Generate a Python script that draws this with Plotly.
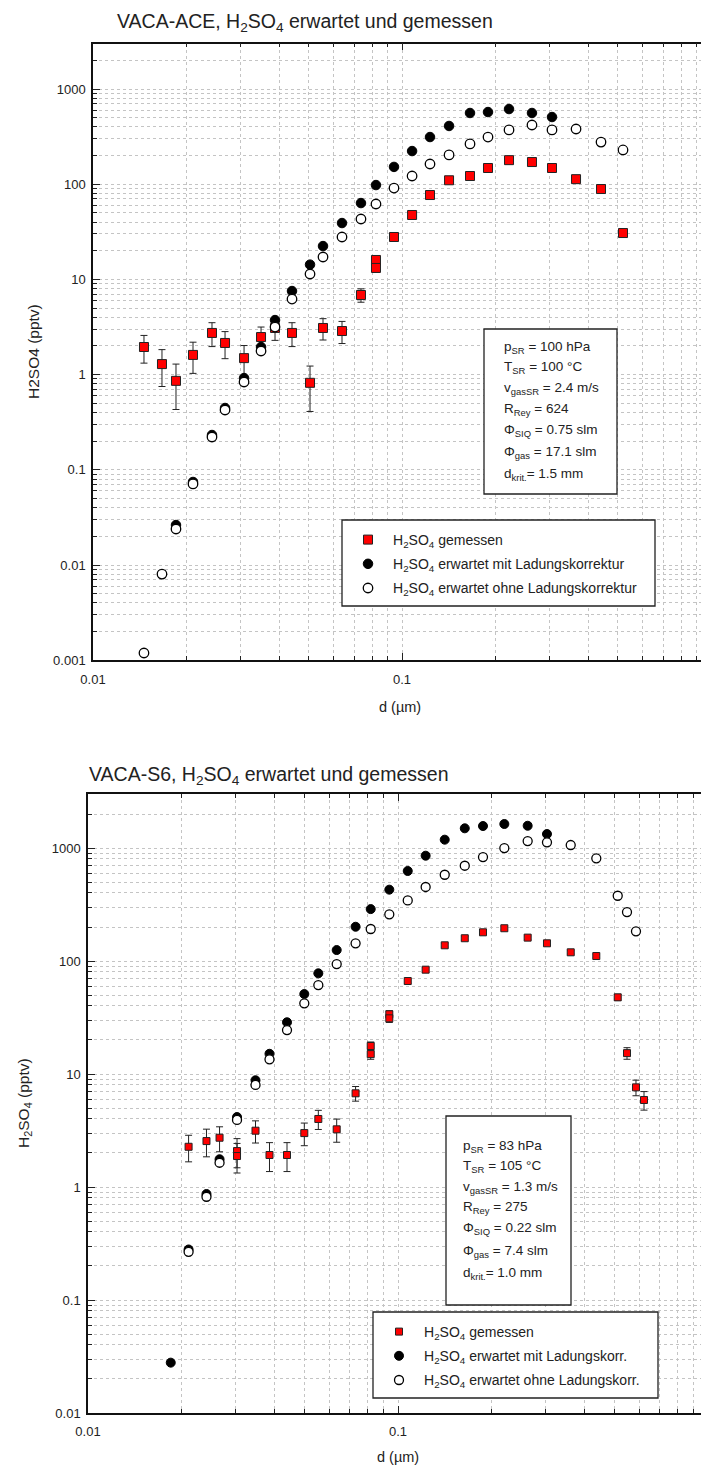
import math
import plotly.graph_objects as go

W, H = 701, 1468

# ---------------- data: top chart (VACA-ACE) ----------------
d_meas_top = [0.01462, 0.01672, 0.01856, 0.02107, 0.02427, 0.02675, 0.03082, 0.03498, 0.03882, 0.04406,
              0.05039, 0.05551, 0.06395, 0.07366, 0.08237, 0.08237, 0.09421, 0.1078, 0.1232, 0.1420,
              0.1660, 0.1898, 0.2220, 0.2634, 0.3058, 0.3658, 0.4406, 0.5191]
meas_top = [1.95, 1.29, 0.86, 1.61, 2.74, 2.15, 1.49, 2.48, 3.09, 2.74,
            0.82, 3.09, 2.87, 6.86, 16.0, 13.2, 27.9, 47.5, 77, 110,
            122, 148, 179, 171, 148, 113, 89, 30.7]
err_top = [0.63, 0.54, 0.43, 0.58, 0.77, 0.68, 0.53, 0.68, 0.8, 0.77,
           0.41, 0.78, 0.75, 1.1, 1.5, 1.3, 2, 3, 5, 6,
           7, 8, 9, 9, 8, 6, 5, 2]

d_mit_top = [0.01856, 0.02107, 0.02427, 0.02675, 0.03082, 0.03498, 0.03882, 0.04406, 0.05039, 0.05551,
             0.06395, 0.07366, 0.08237, 0.09421, 0.1078, 0.1232, 0.1420, 0.1660, 0.1898, 0.2220,
             0.2634, 0.3058]
mit_top = [0.0263, 0.0745, 0.232, 0.446, 0.92, 1.95, 3.74, 7.55, 14.3, 22.4,
           39.1, 63.4, 98, 152, 223, 313, 409, 560, 573, 616,
           560, 508]

d_ohne_top = [0.01462, 0.01672, 0.01856, 0.02107, 0.02427, 0.02675, 0.03082, 0.03498, 0.03882, 0.04406,
              0.05039, 0.05551, 0.06395, 0.07366, 0.08237, 0.09421, 0.1078, 0.1232, 0.1420, 0.1660,
              0.1898, 0.2220, 0.2634, 0.3058, 0.3658, 0.4406, 0.5191]
ohne_top = [0.00119, 0.00803, 0.0239, 0.0710, 0.221, 0.425, 0.836, 1.77, 3.16, 6.22,
            11.4, 17.2, 27.9, 43.1, 62, 91.2, 122, 163, 203, 265,
            313, 372, 419, 372, 380, 277, 229]

# ---------------- data: bottom chart (VACA-S6) ----------------
d_meas_bot = [0.02111, 0.02411, 0.02657, 0.03025, 0.03025, 0.03470, 0.03850, 0.04385, 0.04986, 0.05533,
              0.06342, 0.07298, 0.08166, 0.08166, 0.09374, 0.09374, 0.1075, 0.1228, 0.1415, 0.1642,
              0.1880, 0.2203, 0.2620, 0.3024, 0.3607, 0.4362, 0.5114, 0.5479, 0.5857, 0.6217]
meas_bot = [2.27, 2.55, 2.73, 2.08, 1.88, 3.15, 1.92, 1.92, 3.0, 4.0,
            3.24, 6.75, 17.7, 15.0, 33.8, 31.1, 66.5, 83.8, 137.7, 159,
            179.5, 195, 161, 143.5, 119.4, 110.7, 47.7, 15.3, 7.62, 5.89]
err_bot = [0.6, 0.7, 0.68, 0.6, 0.55, 0.7, 0.55, 0.55, 0.68, 0.77,
           0.75, 1.0, 1.5, 1.5, 2.5, 2.5, 3, 4, 5, 6,
           7, 7, 6, 5, 4, 4, 3, 1.8, 1.2, 1.1]

d_mit_bot = [0.01849, 0.02111, 0.02411, 0.02657, 0.03025, 0.03470, 0.03850, 0.04385, 0.04986, 0.05533,
             0.06342, 0.07298, 0.08166, 0.09374, 0.1075, 0.1228, 0.1415, 0.1642, 0.1880, 0.2203,
             0.2620, 0.3024]
mit_bot = [0.0279, 0.28, 0.867, 1.76, 4.16, 8.8, 15.1, 28.7, 51.0, 77.8,
           125, 201, 288, 428, 626, 855, 1185, 1494, 1565, 1631,
           1574, 1330]

d_ohne_bot = [0.02111, 0.02411, 0.02657, 0.03025, 0.03470, 0.03850, 0.04385, 0.04986, 0.05533, 0.06342,
              0.07298, 0.08166, 0.09374, 0.1075, 0.1228, 0.1415, 0.1642, 0.1880, 0.2203, 0.2620,
              0.3024, 0.3607, 0.4362, 0.5114, 0.5479, 0.5857]
ohne_bot = [0.267, 0.820, 1.64, 3.92, 8.0, 13.5, 24.5, 42.2, 61.3, 94,
            143.5, 192, 259, 344, 452, 580, 697, 832, 998, 1153,
            1123, 1063, 810, 378, 271, 183]

info_top = ["p<sub>SR</sub> = 100 hPa", "T<sub>SR</sub> = 100 °C", "v<sub>gasSR</sub> = 2.4 m/s",
            "R<sub>Rey</sub> = 624", "Φ<sub>SIQ</sub> = 0.75 slm", "Φ<sub>gas</sub> = 17.1 slm",
            "d<sub>krit.</sub>= 1.5 mm"]
info_bot = ["p<sub>SR</sub> = 83 hPa", "T<sub>SR</sub> = 105 °C", "v<sub>gasSR</sub> = 1.3 m/s",
            "R<sub>Rey</sub> = 275", "Φ<sub>SIQ</sub> = 0.22 slm", "Φ<sub>gas</sub> = 7.4 slm",
            "d<sub>krit.</sub>= 1.0 mm"]

H2SO4 = "H<sub>2</sub>SO<sub>4</sub>"
FONT = "Liberation Sans, Arial, sans-serif"


def px(x):
    return x / W


def py(y):
    return 1 - y / H


fig = go.Figure()

RED = "#ff0000"


def add_set(dm, vm, em, d1, v1, d2, v2, xa, ya, leg, sq, circ, names, tag):
    fig.add_trace(go.Scatter(
        x=dm, y=vm, mode="markers", name=names[0], xaxis=xa, yaxis=ya, legend=leg,
        legendgroup=tag + "a",
        marker=dict(symbol="square", size=sq, color=RED, line=dict(color="#222", width=1)),
        error_y=dict(type="data", array=em, visible=True, color="#222", thickness=1, width=3.5)))
    fig.add_trace(go.Scatter(
        x=d1, y=v1, mode="markers", name=names[1], xaxis=xa, yaxis=ya, legend=leg,
        legendgroup=tag + "b",
        marker=dict(symbol="circle", size=circ, color="black", line=dict(color="black", width=1))))
    fig.add_trace(go.Scatter(
        x=d2, y=v2, mode="markers", name=names[2], xaxis=xa, yaxis=ya, legend=leg,
        legendgroup=tag + "c",
        marker=dict(symbol="circle", size=circ, color="white", line=dict(color="black", width=1.3))))


add_set(d_meas_top, meas_top, err_top, d_mit_top, mit_top, d_ohne_top, ohne_top, "x", "y", "legend", 9, 9.5,
        [H2SO4 + " gemessen", H2SO4 + " erwartet mit Ladungskorrektur",
         H2SO4 + " erwartet ohne Ladungskorrektur"], "t")
add_set(d_meas_bot, meas_bot, err_bot, d_mit_bot, mit_bot, d_ohne_bot, ohne_bot, "x2", "y2", "legend2", 7, 9,
        [H2SO4 + " gemessen", H2SO4 + " erwartet mit Ladungskorr.",
         H2SO4 + " erwartet ohne Ladungskorr."], "b")


def log_ticks(lo, hi):
    major, minor = [], []
    for e in range(lo, hi + 1):
        major.append(10.0 ** e)
        for m in range(2, 10):
            minor.append(m * 10.0 ** e)
    return major, minor


def fmt(v):
    return ("%.6f" % v).rstrip("0").rstrip(".")


GRID = "#c4c4c4"


def axis_style(lo, hi, rng, domain, anchor, is_x):
    major, minor = log_ticks(lo, hi)
    d = dict(
        type="log", range=rng, domain=domain, anchor=anchor,
        tickmode="array", tickvals=major, ticktext=[fmt(v) for v in major],
        ticks="inside", ticklen=7, tickwidth=1, tickcolor="#222",
        showgrid=True, gridcolor=GRID, griddash="dot", gridwidth=1,
        minor=dict(tickmode="array", tickvals=minor, ticks="inside", ticklen=4, tickwidth=1,
                   tickcolor="#222", showgrid=True, gridcolor=GRID, griddash="dot", gridwidth=1),
        showline=True, linecolor="#111", linewidth=1.5,
        tickfont=dict(family=FONT, size=13, color="#222"),
        zeroline=False, automargin=False, fixedrange=True,
    )
    if is_x:
        d["mirror"] = "ticks"
        d["ticklabelstandoff"] = 6
    else:
        d["mirror"] = False
        d["ticklabelstandoff"] = 3
    return d


top_y0, top_y1 = 660.2, 43.6
bot_y0, bot_y1 = 1413.0, 794.1

leg_common = dict(xanchor="left", yanchor="top", bgcolor="rgba(0,0,0,0)", borderwidth=0,
                  itemwidth=40, font=dict(family=FONT, size=14, color="#222"), tracegroupgap=3)

fig.update_layout(
    width=W, height=H,
    margin=dict(l=0, r=0, t=0, b=0),
    paper_bgcolor="white", plot_bgcolor="white",
    font=dict(family=FONT, color="#222"),
    xaxis=axis_style(-2, 0, [-2, -2 + (W - 93) / 309.0], [93 / W, 1], "y", True),
    yaxis=axis_style(-3, 3, [-3, math.log10(3000)], [py(top_y0), py(top_y1)], "x", False),
    xaxis2=axis_style(-2, 0, [-2, -2 + (W - 88) / 310.0], [88 / W, 1], "y2", True),
    yaxis2=axis_style(-2, 3, [-2, math.log10(3000)], [py(bot_y0), py(bot_y1)], "x2", False),
    legend=dict(x=px(343), y=py(524), **leg_common),
    legend2=dict(x=px(374), y=py(1316), **leg_common),
    showlegend=True,
)

annotations = []
shapes = []


def text(x, y, s, size=13, xanchor="left", yanchor="middle", angle=0):
    annotations.append(dict(x=px(x), y=py(y), xref="paper", yref="paper", text=s, showarrow=False,
                            xanchor=xanchor, yanchor=yanchor, textangle=angle,
                            font=dict(family=FONT, size=size, color="#222")))


def rect(x0, y0, x1, y1):
    shapes.append(dict(type="rect", xref="paper", yref="paper", x0=px(x0), x1=px(x1), y0=py(y1), y1=py(y0),
                       line=dict(color="#222", width=1.3), fillcolor="white", layer="above"))


# titles
text(115, 23, "VACA-ACE, " + H2SO4 + " erwartet und gemessen", size=19.5)
text(87, 775, "VACA-S6, " + H2SO4 + " erwartet und gemessen", size=19.5)

# axis titles
text(33, 352, "H2SO4 (pptv)", size=15.5, xanchor="center", angle=-90)
text(400, 707, "d (µm)", size=14.5, xanchor="center")
text(24, 1103, H2SO4 + " (pptv)", size=15.5, xanchor="center", angle=-90)
text(398, 1457, "d (µm)", size=14.5, xanchor="center")

# info boxes
rect(484, 329, 617, 494)
for s, y in zip(info_top, [347, 368, 389, 410, 431, 453, 475]):
    text(502, y, s, size=13.5)
rect(446, 1116, 571, 1305)
for s, y in zip(info_bot, [1146, 1166, 1187, 1207, 1228, 1251, 1273]):
    text(461, y, s, size=13.5)

# legend frames
rect(342, 520, 655, 606)
rect(373, 1312, 658, 1398)

fig.update_layout(annotations=annotations, shapes=shapes)

fig.write_html("out.html", include_plotlyjs=True, config={"displayModeBar": False})
